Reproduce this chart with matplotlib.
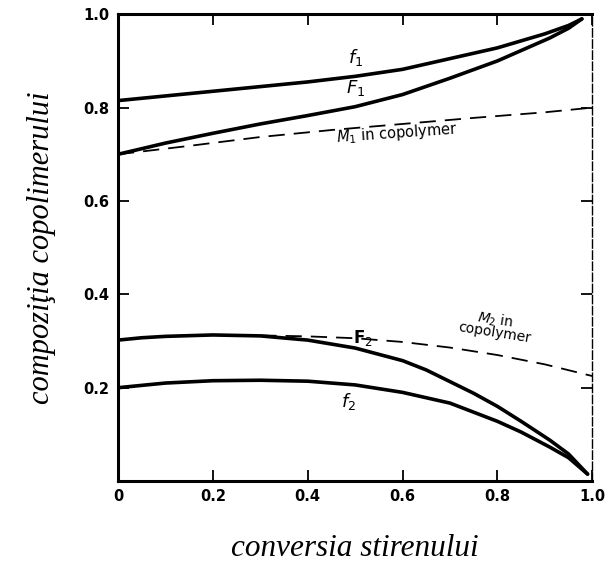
import matplotlib.pyplot as plt
import numpy as np

# conversion values (x) and compositions
x_f1 = [0.0, 0.1, 0.2, 0.3, 0.4, 0.5, 0.6, 0.7, 0.8, 0.9, 0.95, 0.978]
y_f1 = [0.815, 0.825, 0.835, 0.845, 0.855, 0.867, 0.882, 0.905, 0.928, 0.958, 0.976, 0.99]

x_F1 = [0.0, 0.05, 0.1, 0.2, 0.3, 0.4, 0.5, 0.6, 0.7, 0.8, 0.91, 0.95, 0.978]
y_F1 = [0.70, 0.712, 0.724, 0.745, 0.765, 0.783, 0.802, 0.828, 0.863, 0.90, 0.949, 0.97, 0.99]

x_M1 = [0.0, 0.15, 0.3, 0.45, 0.6, 0.75, 0.9, 1.0]
y_M1 = [0.70, 0.718, 0.737, 0.752, 0.765, 0.778, 0.79, 0.80]

x_F2 = [0.0, 0.05, 0.1, 0.2, 0.3, 0.4, 0.5, 0.6, 0.65, 0.7, 0.75, 0.8, 0.85, 0.91, 0.95, 0.99]
y_F2 = [0.302, 0.307, 0.31, 0.313, 0.311, 0.302, 0.285, 0.258, 0.238, 0.213, 0.188, 0.16, 0.128, 0.088, 0.058, 0.015]

x_M2 = [0.3, 0.4, 0.5, 0.6, 0.7, 0.8, 0.9, 1.0]
y_M2 = [0.312, 0.31, 0.306, 0.298, 0.286, 0.27, 0.25, 0.225]

x_f2 = [0.0, 0.05, 0.1, 0.2, 0.3, 0.4, 0.5, 0.6, 0.7, 0.8, 0.85, 0.91, 0.95, 0.99]
y_f2 = [0.20, 0.205, 0.21, 0.215, 0.216, 0.214, 0.206, 0.19, 0.167, 0.128, 0.105, 0.073, 0.05, 0.015]

xticks = [0, 0.2, 0.4, 0.6, 0.8, 1.0]
xticklabels = ["0", "0.2", "0.4", "0.6", "0.8", "1.0"]
yticks = [0.2, 0.4, 0.6, 0.8, 1.0]
yticklabels = ["0.2", "0.4", "0.6", "0.8", "1.0"]

fig = plt.figure(figsize=(6.05, 5.7), dpi=100)
ax = fig.add_axes([0.195, 0.156, 0.784, 0.819])

ax.plot(x_f1, y_f1, color="black", lw=2.6, solid_capstyle="round")
ax.plot(x_F1, y_F1, color="black", lw=2.6, solid_capstyle="round")
ax.plot(x_M1, y_M1, color="black", lw=1.3, dashes=(9, 5))
ax.plot(x_M2, y_M2, color="black", lw=1.3, dashes=(9, 5))
ax.plot(x_F2, y_F2, color="black", lw=2.6, solid_capstyle="round")
ax.plot(x_f2, y_f2, color="black", lw=2.6, solid_capstyle="round")

# curve labels
ax.text(0.485, 0.895, "$\\mathit{f}_1$", fontsize=13)
ax.text(0.48, 0.832, "$\\mathit{F}_1$", fontsize=13)
ax.text(0.46, 0.727, "$\\mathit{M}_1$ in copolymer", fontsize=10.5, rotation=4)
ax.text(0.495, 0.296, "$\\mathbf{F}_2$", fontsize=12)
ax.text(0.47, 0.158, "$\\mathit{f}_2$", fontsize=13)
ax.text(0.755, 0.33, "$\\mathit{M}_2$ in", fontsize=10, rotation=-9)
ax.text(0.715, 0.296, "copolymer", fontsize=10, rotation=-9)

ax.set_xlim(0, 1.0)
ax.set_ylim(0, 1.0)
ax.set_xticks(xticks)
ax.set_xticklabels(xticklabels, fontweight="bold", fontsize=10.5)
ax.set_yticks(yticks)
ax.set_yticklabels(yticklabels, fontweight="bold", fontsize=10.5)
ax.tick_params(direction="in", length=8, width=1.3, top=True, right=True, pad=6)

for s in ["left", "bottom", "top"]:
    ax.spines[s].set_linewidth(2.2)
ax.spines["right"].set_linewidth(1.0)
ax.spines["right"].set_linestyle((0, (6, 2)))

fig.text(0.587, 0.038, "conversia stirenului", family="Liberation Serif",
         style="italic", fontsize=22.5, ha="center", va="center")
fig.text(0.068, 0.565, "compoziţia copolimerului", family="Liberation Serif",
         style="italic", fontsize=22, ha="center", va="center", rotation=90)

fig.savefig("out.png", dpi=100)
